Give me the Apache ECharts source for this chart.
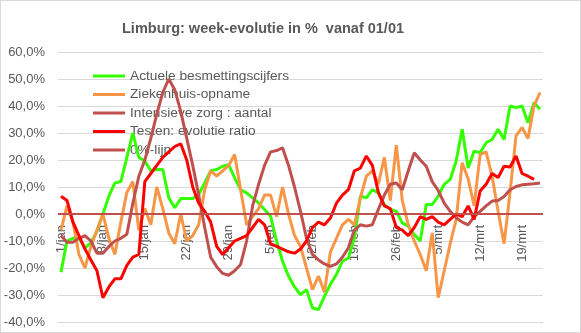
<!DOCTYPE html>
<html>
<head>
<meta charset="utf-8">
<script src="https://cdn.jsdelivr.net/npm/echarts@6/dist/echarts.min.js"></script>
<style>
html,body{margin:0;padding:0;background:#fff;}
#wrap{width:581px;height:333px;box-sizing:border-box;border:1px solid #d9d9d9;position:relative;overflow:hidden;}
#chart{position:absolute;left:-1px;top:-1px;width:581px;height:333px;}
</style>
</head>
<body>
<div id="wrap"><div id="chart"></div></div>
<script>
const categories = [
 '1/jan','2/jan','3/jan','4/jan','5/jan','6/jan','7/jan','8/jan','9/jan','10/jan',
 '11/jan','12/jan','13/jan','14/jan','15/jan','16/jan','17/jan','18/jan','19/jan','20/jan',
 '21/jan','22/jan','23/jan','24/jan','25/jan','26/jan','27/jan','28/jan','29/jan','30/jan','31/jan',
 '1/feb','2/feb','3/feb','4/feb','5/feb','6/feb','7/feb','8/feb','9/feb','10/feb',
 '11/feb','12/feb','13/feb','14/feb','15/feb','16/feb','17/feb','18/feb','19/feb','20/feb',
 '21/feb','22/feb','23/feb','24/feb','25/feb','26/feb','27/feb','28/feb',
 '1/mrt','2/mrt','3/mrt','4/mrt','5/mrt','6/mrt','7/mrt','8/mrt','9/mrt','10/mrt',
 '11/mrt','12/mrt','13/mrt','14/mrt','15/mrt','16/mrt','17/mrt','18/mrt','19/mrt','20/mrt',
 '21/mrt','22/mrt'
];

const besmettingen = [
 -21.6,-10,-9,-9,-12.5,-10.7,-6.4,0,6.6,11.5,
 12,21,30,21,19.6,16,16.5,16.5,6,2.3,
 5.7,5.7,5.7,7.2,11.5,16,16.5,17.7,18.3,13.4,
 9,7.8,6,4.1,1.7,-0.8,-10,-17.5,-23,-27,
 -29.9,-28,-34.8,-35.4,-30.5,-26,-22.4,-17.5,-16.3,-8.8,
 6.6,6,9,7.8,3.5,1.7,1,-3.3,-4.5,-7.6,
 -10,3.5,3.5,6.6,11,12.8,19.6,31.4,17,23.3,
 22.7,26.4,27.6,31.4,27.6,40,39.4,40,33.8,41.2,
 38.8
];

const ziekenhuis = [
 -6,3,-3,-15,-20,-12,-6,0,-9,-15,
 -3,8,12,-6,2,-4,10,2,-7,-11,
 0,-10,-8,-4,9,16,14,16,18,22,
 9,-4,-1,2,7,7,-1,10,0,-8,
 -12,-20,-28,-23,-29,-14,-9,-4,-2,-4,
 6,14,16,11,21,5,25.5,5,-4,-10,
 -15,-21,-7,-31,-21,-11,-2,19,13,3,
 22,23,14,1,-11,8,29,32,28,40,
 45
];

const intensieve = [
 -8,-10.5,-10.5,-9,-8,-10,-14.5,-14.5,-12,-10,
 -9,-7.5,4,14,20,28,37,45,50,46,
 38,28,18,7,-5,-16,-19.5,-22,-22.7,-21,
 -18.7,-10,3,11,18,23,23.5,24.5,18,10,
 1,-9,-15,-17,-18.5,-19.4,-18.5,-16,-12.5,-6,
 -4,-4.5,-4,1.7,7,11,11.5,9,16,22.7,
 20,17.7,12,8.7,4,1,-1.4,-3,-4,-1,
 1,3,4.8,5,6.5,9,10.2,10.8,11,11.2,
 11.5
];

const testen = [
 6.6,5,-3,-8,-13,-17,-21,-31,-27,-24,
 -24,-19,-16,-15,12,15,18,21,23,25,
 26,20,10,4,1,-3,-12,-15,-12.5,-10,
 -9,-8,-5,-2,-4,-11,-12,-13,-14,-14.5,
 -13,-10,-5,-3,-4,-1.5,4,7,9,16,
 17,21.5,18,8,3,2,-5,-6,-8,-5,
 -1,-2,-1,-3,-4,-2,0,-1,3,-2,
 8.5,11,15,13.5,17.7,17.4,21.5,15,14,12.8
];

const yMin = -40, yMax = 60, yStep = 10;

const chart = echarts.init(document.getElementById('chart'), null, {renderer:'canvas'});
const txt = '#595959';
const font = 'Liberation Sans';

// plot geometry
const plotTop = 52, plotBottom = 322;
const zeroY = plotTop + (yMax - 0) / (yMax - yMin) * (plotBottom - plotTop);

function lineSeries(name, data, color, width) {
  return {
    name: name, type: 'line', data: data, symbol: 'none', smooth: false,
    xAxisIndex: 0, yAxisIndex: 0, z: 3,
    lineStyle: {color: color, width: width}, itemStyle: {color: color},
    emphasis: {disabled: true}, animation: false
  };
}

chart.setOption({
  animation: false,
  backgroundColor: '#fff',
  title: {
    text: 'Limburg: week-evolutie in %  vanaf 01/01',
    left: 117, top: 16,
    textStyle: {color: txt, fontFamily: font, fontSize: 14.5, fontWeight: 'bold'}
  },
  legend: {
    orient: 'vertical', left: 93, top: 69, padding: 0, z: 1,
    itemWidth: 32, itemHeight: 3, itemGap: 4.5,
    icon: 'rect',
    textStyle: {color: txt, fontFamily: font, fontSize: 13.7},
    data: ['Actuele besmettingscijfers','Ziekenhuis-opname','Intensieve zorg : aantal','Testen: evolutie ratio','0%-lijn']
  },
  grid: [
    {left: 58, right: 38, top: plotTop, height: plotBottom - plotTop, containLabel: false,
     outerBounds: {left: -300, right: -300, top: -300, bottom: -300}},
    {left: 58, right: 38, top: plotTop, height: zeroY - plotTop, containLabel: false,
     outerBounds: {left: -300, right: -300, top: -300, bottom: -300}}
  ],
  xAxis: [
    {
      gridIndex: 0, type: 'category', data: categories, boundaryGap: true,
      axisLine: {show: false}, axisTick: {show: false}, axisLabel: {show: false},
      splitLine: {show: false}
    },
    {
      gridIndex: 1, type: 'category', data: categories, boundaryGap: true, position: 'bottom',
      axisLine: {show: false, onZero: false}, axisTick: {show: false},
      axisLabel: {interval: 6, rotate: 90, margin: 11, color: txt, fontFamily: font, fontSize: 13},
      splitLine: {show: false}
    }
  ],
  yAxis: [
    {
      gridIndex: 0, type: 'value', min: yMin, max: yMax, interval: yStep,
      axisLine: {show: false}, axisTick: {show: false},
      axisLabel: {
        margin: 13, color: txt, fontFamily: font, fontSize: 13,
        formatter: v => v.toFixed(1).replace('.', ',') + '%'
      },
      splitLine: {lineStyle: {color: '#d9d9d9', width: 1}}
    },
    {
      gridIndex: 1, type: 'value', min: 0, max: yMax, show: false
    }
  ],
  series: [
    lineSeries('Actuele besmettingscijfers', besmettingen, '#33ff00', 3),
    lineSeries('Ziekenhuis-opname', ziekenhuis, '#f79646', 3),
    lineSeries('Intensieve zorg : aantal', intensieve, '#c0504d', 3),
    lineSeries('Testen: evolutie ratio', testen, '#ff0000', 3),
    Object.assign(lineSeries('0%-lijn', [], '#c0504d', 2), {
      markLine: {
        silent: true, symbol: 'none', animation: false,
        label: {show: false},
        lineStyle: {color: '#c0504d', width: 2, type: 'solid'},
        data: [{yAxis: 0}]
      }
    })
  ]
});
</script>
</body>
</html>
